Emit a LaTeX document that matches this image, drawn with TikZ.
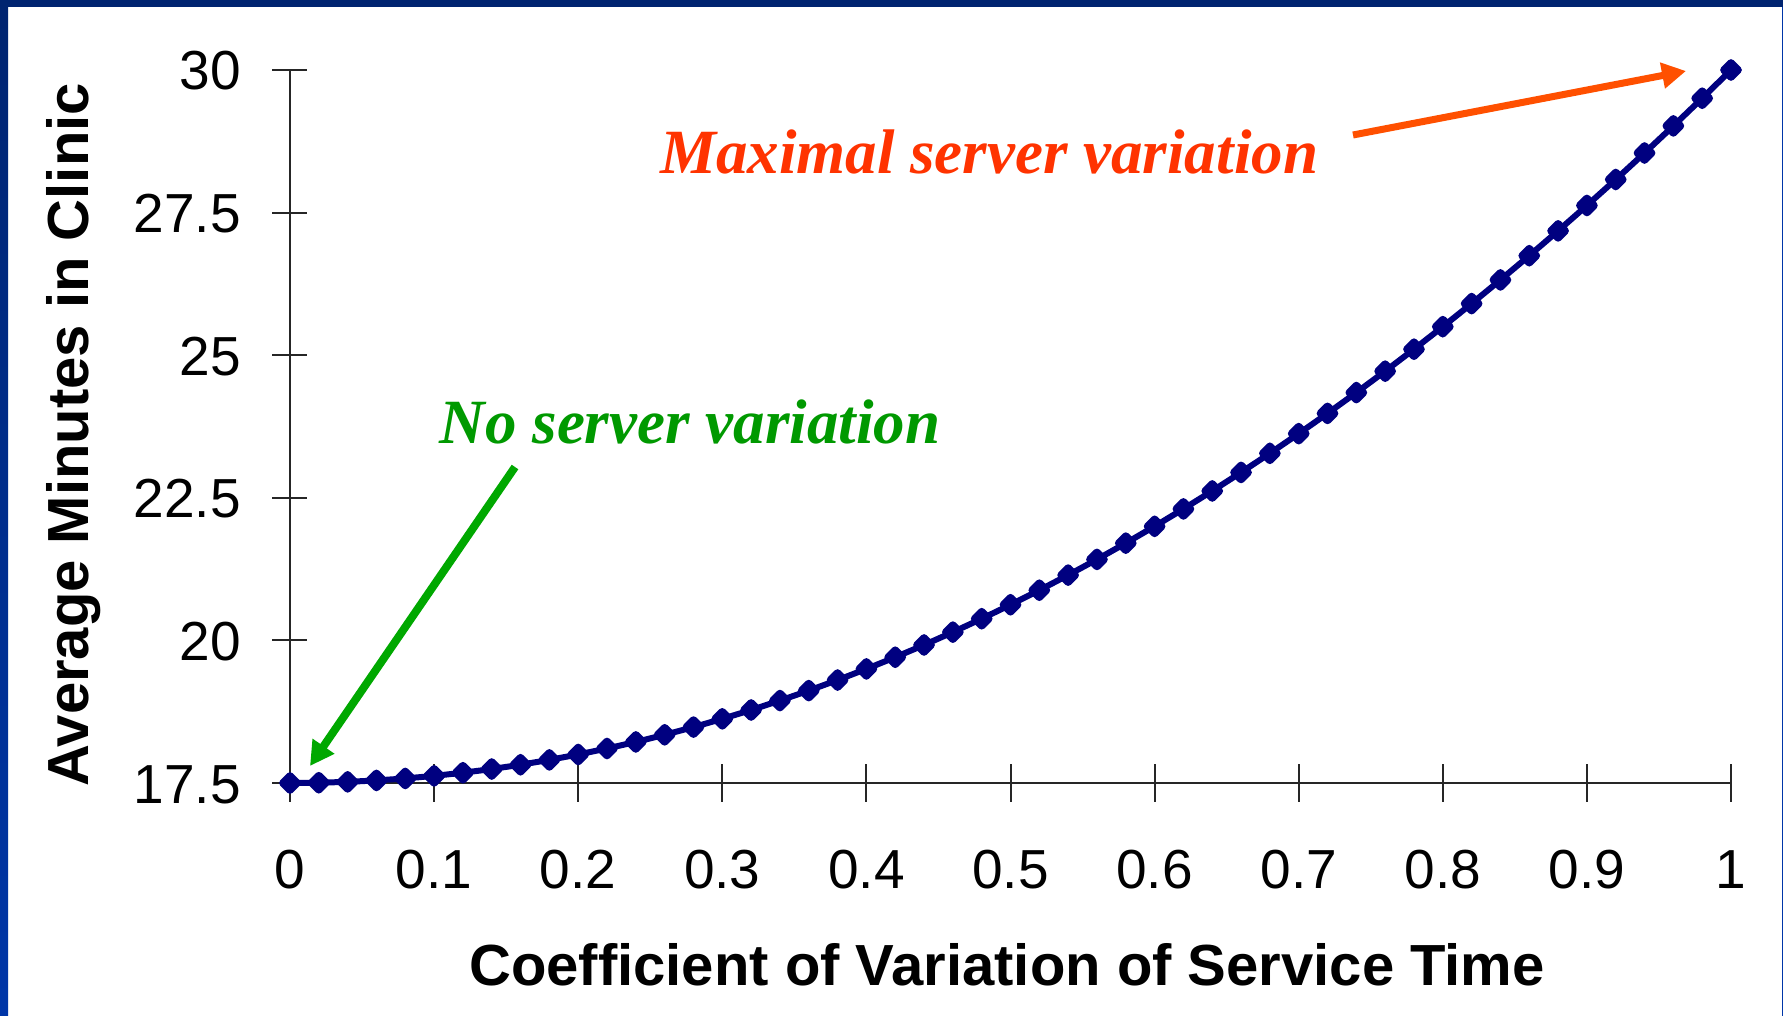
\documentclass[tikz,border=0pt]{standalone}
\usepackage{fontspec}
\setmainfont{Liberation Sans}
\newfontfamily\annotfont{Liberation Serif}
\usetikzlibrary{arrows.meta}

\definecolor{framenavy}{RGB}{0,36,112}
\definecolor{frameblue}{RGB}{0,54,168}
\definecolor{curvenavy}{RGB}{0,0,128}
\definecolor{maxred}{RGB}{255,51,0}
\definecolor{maxarrow}{RGB}{255,80,0}
\definecolor{notext}{RGB}{0,153,0}
\definecolor{noarrow}{RGB}{0,168,0}

\tikzset{
  axisline/.style={line width=2pt, black!85},
  ticklabel/.style={inner sep=0pt, font=\fontsize{55}{60}\selectfont},
  axistitle/.style={inner sep=0pt, font=\fontsize{58}{62}\selectfont\bfseries},
  annot/.style={inner sep=0pt, font=\fontsize{63}{68}\selectfont\annotfont\bfseries\itshape},
  curve/.style={line width=6pt, curvenavy, line join=round},
  dotfill/.style={fill=curvenavy, draw=curvenavy, line width=2pt, rounded corners=3pt},
  callout/.style={-{Triangle[length=24pt,width=25pt]}},
}

\begin{document}
\begin{tikzpicture}[x=1pt, y=-1pt]
  \useasboundingbox (0,0) rectangle (1783,1016);
  \fill[white] (0,0) rectangle (1783,1016);

  % slide frame
  \shade[top color=framenavy, bottom color=frameblue] (0,0) rectangle (8,1016);
  \fill[framenavy] (0,0) rectangle (1783,7);
  \fill[frameblue] (1781.5,7) rectangle (1783,1016);

  % axes
  \draw[axisline] (290,70) -- (290,802);
  \draw[axisline] (272,783) -- (1731,783);

  % y ticks and labels
  \foreach \v/\lab [count=\k from 0] in {0/17.5,1/20,2/22.5,3/25,4/27.5,5/30} {
    \pgfmathsetmacro\yy{783-142.6*\v}
    \draw[axisline] (272,\yy) -- (307,\yy);
    \node[ticklabel, anchor=base east] (ylab\k) at (241,\yy+20) {\lab};
  }

  % x ticks and labels
  \foreach \v/\lab [count=\k from 0] in {0/0,1/0.1,2/0.2,3/0.3,4/0.4,5/0.5,6/0.6,7/0.7,8/0.8,9/0.9,10/1} {
    \pgfmathsetmacro\xx{290+144.1*\v}
    \draw[axisline] (\xx,764) -- (\xx,802);
    \node[ticklabel, anchor=base] (xlab\k) at (\xx,888) {\lab};
  }

  % axis titles
  \node[axistitle, anchor=base] (xtitle) at (1007,985) {Coefficient of Variation of Service Time};
  \node[axistitle, anchor=base, rotate=90] (ytitle) at (88,435) {Average Minutes in Clinic};

  % average time in clinic against the service-time coefficient of variation
  \draw[curve] plot[domain=0:1, samples=51] ({290+1441*\x}, {783-713*\x*\x});
  \foreach \i in {0,...,50} {
    \pgfmathsetmacro\cv{\i/50}
    \pgfmathsetmacro\cx{290+1441*\cv}
    \pgfmathsetmacro\cy{783-713*\cv*\cv}
    \filldraw[dotfill] (\cx-11,\cy) -- (\cx,\cy-11) -- (\cx+11,\cy) -- (\cx,\cy+11) -- cycle;
  }

  % callouts
  \node[annot, text=maxred, anchor=base] (maxnote) at (989,174) {Maximal server variation};
  \node[annot, text=notext, anchor=base] (nonote) at (690,443) {No server variation};

  \coordinate (maxtail) at (1353,135);
  \coordinate (maxtip) at (1686,71);
  \coordinate (notail) at (515,467);
  \coordinate (notip) at (310,766);

  \draw[callout, maxarrow, line width=7pt] (maxtail) -- (maxtip);
  \draw[callout, noarrow, line width=8pt] (notail) -- (notip);
\end{tikzpicture}
\end{document}
